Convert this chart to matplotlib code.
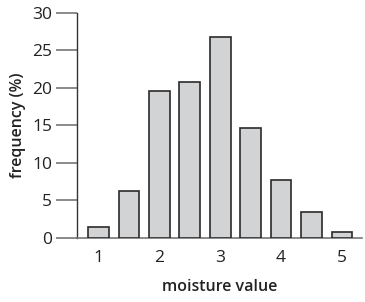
import numpy as np
import matplotlib
matplotlib.use('Agg')
import matplotlib.pyplot as plt

# Dados
moisture = [1, 1.5, 2, 2.5, 3, 3.5, 4, 4.5, 5]
frequency = [1.5, 6.2, 19.6, 20.8, 26.8, 14.6, 7.7, 3.4, 0.8]
xticks = [1, 2, 3, 4, 5]
yticks = [0, 5, 10, 15, 20, 25, 30]

plt.rcParams['font.family'] = ['Open Sans', 'DejaVu Sans']

fig = plt.figure(figsize=(3.65, 3.02), dpi=100)
ax = fig.add_axes([0.211, 0.212, 0.781, 0.745])

ax.bar(moisture, frequency, width=0.34, color='#d2d3d5',
       edgecolor='#2a2a2a', linewidth=1.2, zorder=3)

ax.set_xlim(0.648, 5.33)
ax.set_ylim(0, 30)
ax.set_xticks(xticks)
ax.set_yticks(yticks)

for s in ['top', 'right']:
    ax.spines[s].set_visible(False)
ax.spines['left'].set_color('#333333')
ax.spines['bottom'].set_color('#777777')
ax.spines['left'].set_linewidth(1.0)
ax.spines['bottom'].set_linewidth(1.2)

ax.tick_params(axis='y', length=15, width=1.2, color='#777777',
               labelsize=12.5, labelcolor='#222222', pad=3)
ax.tick_params(axis='x', length=0, labelsize=12.5, labelcolor='#222222', pad=9)

ax.set_xlabel('moisture value', fontsize=11.5, color='#222222',
              fontweight='semibold', labelpad=9)
ax.set_ylabel('frequency (%)', fontsize=11.5, color='#222222',
              fontweight='semibold', labelpad=4)

fig.savefig('out.png', dpi=100)
